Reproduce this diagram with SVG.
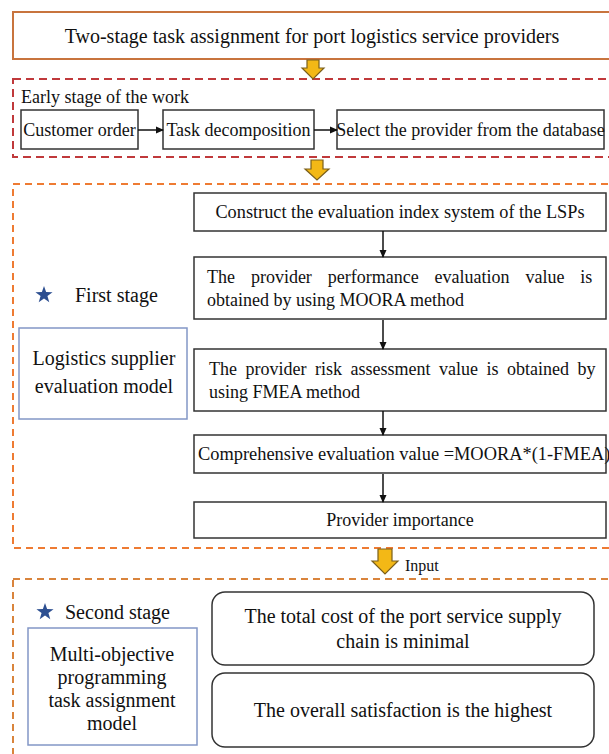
<svg xmlns="http://www.w3.org/2000/svg" width="609" height="754" viewBox="0 0 609 754" font-family="'Liberation Serif', 'DejaVu Serif', serif">
<style>
text{font-family:'Liberation Serif', 'DejaVu Serif', serif;fill:#111;}
.t18{font-size:18px;}
.t20{font-size:20px;}
.mid{text-anchor:middle;}
.box{fill:#fff;stroke:#333;stroke-width:1.5;}
.rbox{fill:#fff;stroke:#333;stroke-width:1.5;}
.blue{fill:#fff;stroke:#8397c6;stroke-width:1.5;}
.yarrow{fill:#f3b816;stroke:#7a5f1c;stroke-width:1.2;}
.conn{stroke:#111;stroke-width:1.5;fill:none;marker-end:url(#ah);}
</style>
<defs>
<marker id="ah" markerWidth="8" markerHeight="8" refX="7" refY="4" orient="auto" markerUnits="userSpaceOnUse">
<path d="M0,0.5 L8,4 L0,7.5 Z" fill="#111"/>
</marker>
<path id="star" d="M0,-9 L2.12,-2.91 L8.56,-2.78 L3.42,1.11 L5.29,7.28 L0,3.6 L-5.29,7.28 L-3.42,1.11 L-8.56,-2.78 L-2.12,-2.91 Z" fill="#2d4f91"/>
</defs>
<rect width="609" height="754" fill="#fff"/>

<g id="title">
<rect x="13" y="12" width="620" height="47" fill="#fff" stroke="#c8743e" stroke-width="2"/>
<text class="t20 mid" x="312" y="43">Two-stage task assignment for port logistics service providers</text>
</g>

<g id="early-stage">
<rect x="13" y="79" width="620" height="78" fill="none" stroke="#c0393b" stroke-width="2" stroke-dasharray="8,5"/>
<text class="t18" x="21" y="103">Early stage of the work</text>
</g>
<g id="customer-order">
<rect class="box" x="21" y="110" width="117" height="39"/>
<text class="t18 mid" x="79.5" y="136">Customer order</text>
</g>
<g id="task-decomposition">
<rect class="box" x="163" y="110" width="151" height="39"/>
<text class="t18 mid" x="238.5" y="136">Task decomposition</text>
</g>
<g id="select-provider">
<rect class="box" x="337" y="110" width="267" height="39"/>
<text class="t18 mid" x="470.5" y="136">Select the provider from the database</text>
</g>

<g id="first-stage">
<rect x="13" y="184" width="620" height="364" fill="none" stroke="#ee7b33" stroke-width="2" stroke-dasharray="7,5"/>
<use href="#star" x="44" y="295"/>
<text class="t20" x="75" y="302">First stage</text>
</g>
<g id="lsem">
<rect class="blue" x="19" y="328" width="168" height="91"/>
<text class="t20 mid" x="104" y="365">Logistics supplier</text>
<text class="t20 mid" x="104" y="393">evaluation model</text>
</g>
<g id="construct">
<rect class="box" x="194" y="193" width="412" height="38"/>
<text class="t18 mid" x="400" y="218" style="font-size:18.3px">Construct the evaluation index system of the LSPs</text>
</g>
<g id="moora">
<rect class="box" x="194" y="257" width="412" height="62"/>
<text class="t18" x="207" y="283" word-spacing="11.4">The provider performance evaluation value is</text>
<text class="t18" x="207" y="306">obtained by using MOORA method</text>
</g>
<g id="fmea">
<rect class="box" x="194" y="349" width="412" height="62"/>
<text class="t18" x="209" y="375" word-spacing="4">The provider risk assessment value is obtained by</text>
<text class="t18" x="209" y="398">using FMEA method</text>
</g>
<g id="comprehensive">
<rect class="box" x="194" y="435" width="412" height="38"/>
<text class="t18" x="198" y="460" style="font-size:18.4px">Comprehensive evaluation value =MOORA*(1-FMEA)</text>
</g>
<g id="importance">
<rect class="box" x="194" y="502" width="412" height="36"/>
<text class="t18 mid" x="400" y="526">Provider importance</text>
</g>

<g id="second-stage">
<rect x="13" y="579" width="620" height="200" fill="none" stroke="#d9843c" stroke-width="2" stroke-dasharray="7,5"/>
<use href="#star" x="45" y="612"/>
<text class="t20" x="65" y="619">Second stage</text>
</g>
<g id="mop">
<rect class="blue" x="28" y="628" width="169" height="117"/>
<text class="t20 mid" x="112" y="661">Multi-objective</text>
<text class="t20 mid" x="112" y="684">programming</text>
<text class="t20 mid" x="112" y="707">task assignment</text>
<text class="t20 mid" x="112" y="730">model</text>
</g>
<g id="cost">
<rect class="rbox" x="212" y="592" width="382" height="73" rx="13"/>
<text class="t20 mid" x="403" y="623">The total cost of the port service supply</text>
<text class="t20 mid" x="403" y="648">chain is minimal</text>
</g>
<g id="satisfaction">
<rect class="rbox" x="212" y="673" width="382" height="74" rx="13"/>
<text class="t20 mid" x="403" y="717">The overall satisfaction is the highest</text>
</g>

<g id="connectors">
<polygon class="yarrow" points="307,60 319,60 319,68 324,68 313,79 302,68 307,68"/>
<polygon class="yarrow" points="311,160 323,160 323,169 329,169 317,180 305,169 311,169"/>
<polygon class="yarrow" points="378,549 392,549 392,561 398,561 385,574 372,561 378,561"/>
<text x="405" y="571" style="font-size:16px">Input</text>
<line class="conn" x1="138" y1="130" x2="163" y2="130"/>
<line class="conn" x1="314" y1="130" x2="337" y2="130"/>
<line class="conn" x1="383" y1="231" x2="383" y2="257"/>
<line class="conn" x1="383" y1="320" x2="383" y2="349"/>
<line class="conn" x1="383" y1="411" x2="383" y2="435"/>
<line class="conn" x1="383" y1="474" x2="383" y2="502"/>
</g>
</svg>
